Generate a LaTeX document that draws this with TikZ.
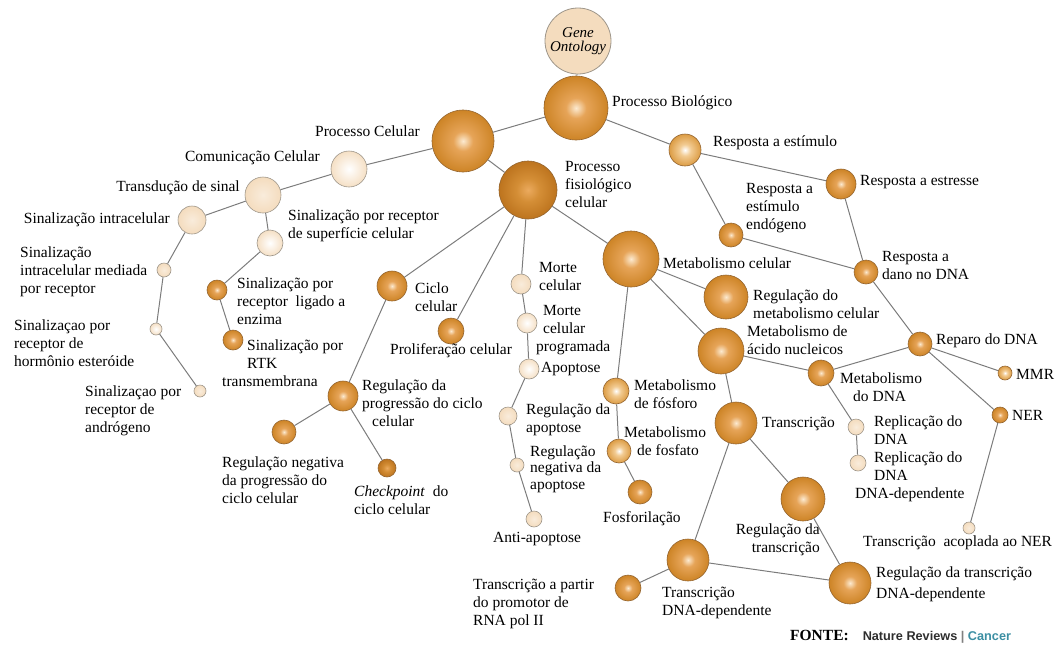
\documentclass[tikz,border=0pt]{standalone}
\usepackage{fontspec}
\setmainfont{Liberation Serif}
\newfontfamily\srcfont{Liberation Sans}
\definecolor{orbCore}{HTML}{FCEAD0}
\definecolor{orbMid}{HTML}{E6A458}
\definecolor{orbOuter}{HTML}{CD8426}
\definecolor{deepCore}{HTML}{EBAA5E}
\definecolor{deepMid}{HTML}{D48E36}
\definecolor{deepOuter}{HTML}{BD741E}
\definecolor{paleMid}{HTML}{F2CB92}
\definecolor{paleOuter}{HTML}{DC9C44}
\definecolor{orbRim}{HTML}{946531}
\definecolor{beigeFill}{HTML}{F4DCBE}
\definecolor{beigeRim}{HTML}{9E968A}
\definecolor{linkGray}{HTML}{7C7C7C}
\definecolor{srcTeal}{HTML}{3C8FA3}
\definecolor{srcDark}{HTML}{2E2E2E}
\pgfdeclareradialshading{orbshade}{\pgfpoint{0bp}{0bp}}{color(0bp)=(orbCore); color(8bp)=(orbMid); color(25bp)=(orbOuter); color(50bp)=(orbOuter)}
\pgfdeclareradialshading{deepshade}{\pgfpoint{0bp}{0bp}}{color(0bp)=(deepCore); color(10bp)=(deepMid); color(25bp)=(deepOuter); color(50bp)=(deepOuter)}
\pgfdeclareradialshading{paleshade}{\pgfpoint{0bp}{0bp}}{color(0bp)=(white); color(9bp)=(paleMid); color(25bp)=(paleOuter); color(50bp)=(paleOuter)}

\begin{document}
\begin{tikzpicture}[x=1pt, y=-1pt,
    every node/.style={font=\fontsize{15.5}{18}\selectfont},
    orb/.style={circle, inner sep=0pt, minimum size=#1, shading=orbshade,
      draw=orbRim, line width=0.6pt},
    deeporb/.style={orb=#1, shading=deepshade},
    paleorb/.style={orb=#1, shading=paleshade},
    beigeorb/.style={circle, inner sep=0pt, minimum size=#1, shading=radial,
      inner color=beigeFill!55!white, outer color=beigeFill, draw=beigeRim, line width=0.6pt},
    whiteorb/.style={beigeorb=#1, inner color=white, outer color=beigeFill!90!white},
    link/.style={draw=linkGray, line width=1pt},
    lbl/.style={inner sep=0pt, align=left, anchor=west},
    lblr/.style={inner sep=0pt, align=right, anchor=east}]
  \useasboundingbox (0,0) rectangle (1063,646);

  % raiz e primeiros niveis
  \node[circle, inner sep=0pt, minimum size=66pt, fill=beigeFill, draw=beigeRim, line width=0.8pt,
        font=\fontsize{15}{14}\selectfont\itshape, align=center] (go) at (578,41) {Gene\\Ontology};
  \node[orb=64pt] (pb) at (576,108) {};
  \node[orb=62pt] (pc) at (463,141) {};
  \node[deeporb=58pt] (pfc) at (528,190) {};
  \node[paleorb=32pt] (respest) at (685,150) {};

  % comunicacao celular
  \node[whiteorb=36pt] (cc) at (349,169) {};
  \node[beigeorb=36pt] (ts) at (263,195) {};
  \node[beigeorb=28pt] (si) at (192,220) {};
  \node[whiteorb=26pt] (ss) at (270,243) {};
  \node[beigeorb=14pt] (simr) at (164,270) {};
  \node[whiteorb=12pt] (horm) at (156,329) {};
  \node[beigeorb=12pt] (andr) at (200,391) {};
  \node[orb=20pt] (enz) at (217,290) {};
  \node[orb=20pt] (rtk) at (233,340) {};

  % processo fisiologico
  \node[orb=30pt] (ciclo) at (392,286) {};
  \node[orb=26pt] (prolif) at (451,331) {};
  \node[beigeorb=20pt] (morte) at (521,284) {};
  \node[whiteorb=20pt] (morteprog) at (527,323) {};
  \node[whiteorb=20pt] (apop) at (529,369) {};
  \node[orb=30pt] (regprog) at (343,396) {};
  \node[orb=24pt] (regnegprog) at (284,432) {};
  \node[deeporb=18pt] (chkpt) at (387,468) {};
  \node[beigeorb=18pt] (regapop) at (508,416) {};
  \node[beigeorb=14pt] (regnegapop) at (517,465) {};
  \node[beigeorb=16pt] (antiapop) at (534,519) {};

  % metabolismo
  \node[orb=56pt] (metcel) at (631,259) {};
  \node[orb=44pt] (regmetcel) at (726,297) {};
  \node[paleorb=26pt] (metfosforo) at (616,391) {};
  \node[paleorb=24pt] (metfosfato) at (619,451) {};
  \node[orb=24pt] (fosforil) at (640,492) {};
  \node[orb=46pt] (metacido) at (721,351) {};
  \node[orb=42pt] (transc) at (736,423) {};
  \node[orb=26pt] (metdna) at (821,373) {};
  \node[beigeorb=16pt] (repl) at (856,427) {};
  \node[beigeorb=16pt] (repldep) at (858,463) {};
  \node[orb=44pt] (regtransc) at (803,499) {};
  \node[orb=42pt] (transcdep) at (688,560) {};
  \node[orb=42pt] (regtranscdep) at (850,583) {};
  \node[orb=26pt] (rnapol) at (628,588) {};

  % resposta a estimulo
  \node[orb=30pt] (respstress) at (841,184) {};
  \node[orb=24pt] (respendo) at (731,235) {};
  \node[orb=24pt] (respdano) at (866,272) {};
  \node[orb=24pt] (reparo) at (920,344) {};
  \node[paleorb=14pt] (mmr) at (1005,373) {};
  \node[orb=16pt] (ner) at (1000,415) {};
  \node[beigeorb=12pt] (tcner) at (969,528) {};

  % ligacoes
  \draw[link] (go) -- (pb);
  \draw[link] (pb) -- (pc);
  \draw[link] (pb) -- (respest);
  \draw[link] (pc) -- (cc);
  \draw[link] (pc) -- (pfc);
  \draw[link] (cc) -- (ts);
  \draw[link] (ts) -- (si);
  \draw[link] (ts) -- (ss);
  \draw[link] (si) -- (simr);
  \draw[link] (simr) -- (horm);
  \draw[link] (horm) -- (andr);
  \draw[link] (ss) -- (enz);
  \draw[link] (enz) -- (rtk);
  \draw[link] (pfc) -- (ciclo);
  \draw[link] (pfc) -- (prolif);
  \draw[link] (pfc) -- (morte);
  \draw[link] (pfc) -- (metcel);
  \draw[link] (ciclo) -- (regprog);
  \draw[link] (regprog) -- (regnegprog);
  \draw[link] (regprog) -- (chkpt);
  \draw[link] (morte) -- (morteprog);
  \draw[link] (morteprog) -- (apop);
  \draw[link] (apop) -- (regapop);
  \draw[link] (regapop) -- (regnegapop);
  \draw[link] (regnegapop) -- (antiapop);
  \draw[link] (metcel) -- (regmetcel);
  \draw[link] (metcel) -- (metfosforo);
  \draw[link] (metcel) -- (metacido);
  \draw[link] (metfosforo) -- (metfosfato);
  \draw[link] (metfosfato) -- (fosforil);
  \draw[link] (metacido) -- (transc);
  \draw[link] (metacido) -- (metdna);
  \draw[link] (metdna) -- (reparo);
  \draw[link] (metdna) -- (repl);
  \draw[link] (repl) -- (repldep);
  \draw[link] (transc) -- (regtransc);
  \draw[link] (transc) -- (transcdep);
  \draw[link] (regtransc) -- (regtranscdep);
  \draw[link] (transcdep) -- (regtranscdep);
  \draw[link] (transcdep) -- (rnapol);
  \draw[link] (respest) -- (respstress);
  \draw[link] (respest) -- (respendo);
  \draw[link] (respendo) -- (respdano);
  \draw[link] (respstress) -- (respdano);
  \draw[link] (respdano) -- (reparo);
  \draw[link] (reparo) -- (mmr);
  \draw[link] (reparo) -- (ner);
  \draw[link] (ner) -- (tcner);

  % rotulos
  \node[lbl] (pb-t) at (612,103) {Processo Biológico};
  \node[lblr] (pc-t) at (420,131) {Processo Celular};
  \node[lblr] (cc-t) at (320,158) {Comunicação Celular};
  \node[lblr] (ts-t) at (240,188) {Transdução de sinal};
  \node[lblr] (si-t) at (170,220) {Sinalização intracelular};
  \node[lbl] (ss-t) at (288,226) {Sinalização por receptor\\de superfície celular};
  \node[lbl] (simr-t) at (20,272) {Sinalização\\intracelular mediada\\por receptor};
  \node[lbl] (horm-t) at (14,343) {Sinalizaçao por\\receptor de\\hormônio esteróide};
  \node[lbl] (andr-t) at (85,411) {Sinalizaçao por\\receptor de\\andrógeno};
  \node[lbl] (enz-t) at (237,301) {Sinalização por\\receptor\ \ ligado a\\enzima};
  \node[lbl] (rtk-t) at (222,363) {\hspace*{25pt}Sinalização por\\\hspace*{25pt}RTK\\transmembrana};
  \node[lbl] (pfc-t) at (565,184) {Processo\\fisiológico\\celular};
  \node[lbl] (ciclo-t) at (415,297) {Ciclo\\celular};
  \node[lbl] (prolif-t) at (390,351) {Proliferação celular};
  \node[lbl] (morte-t) at (539,276) {Morte\\celular};
  \node[lbl] (morteprog-t) at (536,330) {\hspace*{7pt}Morte\\\hspace*{7pt}celular\\programada};
  \node[lbl] (apop-t) at (541,369) {Apoptose};
  \node[lbl] (metcel-t) at (663,263) {Metabolismo celular};
  \node[lbl] (regprog-t) at (362,403) {Regulação da\\progressão do ciclo\\\hspace*{10pt}celular};
  \node[lbl] (regnegprog-t) at (222,480) {Regulação negativa\\da progressão do\\ciclo celular};
  \node[lbl] (chkpt-t) at (354,500) {\textit{Checkpoint}\ \ do\\ciclo celular};
  \node[lbl] (regapop-t) at (526,420) {Regulação da\\apoptose};
  \node[lbl, font=\fontsize{15.5}{16.5}\selectfont] (regnegapop-t) at (530,469) {Regulação\\negativa da\\apoptose};
  \node[lbl] (antiapop-t) at (493,539) {Anti-apoptose};
  \node[lbl] (metfosforo-t) at (634,394) {Metabolismo\\de fósforo};
  \node[lbl] (metfosfato-t) at (624,441) {Metabolismo\\\hspace*{13pt}de fosfato};
  \node[lbl] (fosforil-t) at (603,519) {Fosforilação};
  \node[lbl] (regmetcel-t) at (753,304) {Regulação do\\metabolismo celular};
  \node[lbl] (metacido-t) at (747,340) {Metabolismo de\\ácido nucleicos};
  \node[lbl] (transc-t) at (762,424) {Transcrição};
  \node[lbl] (metdna-t) at (840,387) {Metabolismo\\\hspace*{13pt}do DNA};
  \node[lbl] (reparo-t) at (936,341) {Reparo do DNA};
  \node[lbl] (mmr-t) at (1016,374) {MMR};
  \node[lbl] (ner-t) at (1012,415) {NER};
  \node[lbl] (repl-t) at (874,430) {Replicação do\\DNA};
  \node[lbl] (repldep-t) at (855,477) {\hspace*{19pt}Replicação do\\\hspace*{19pt}DNA\\DNA-dependente};
  \node[lbl] (tcner-t) at (863,543) {Transcrição\ \ acoplada ao NER};
  \node[lblr] (regtransc-t) at (820,540) {Regulação da\\transcrição};
  \node[lbl] (transcdep-t) at (662,603) {Transcrição\\DNA-dependente};
  \node[lbl, font=\fontsize{15.5}{21}\selectfont] (regtranscdep-t) at (876,584) {Regulação da transcrição\\DNA-dependente};
  \node[lbl] (rnapol-t) at (473,604) {Transcrição a partir\\do promotor de\\RNA pol II};
  \node[lbl] (respest-t) at (713,143) {Resposta a estímulo};
  \node[lbl] (respstress-t) at (860,182) {Resposta a estresse};
  \node[lbl] (respendo-t) at (746,208) {Resposta a\\estímulo\\endógeno};
  \node[lbl] (respdano-t) at (882,265) {Resposta a\\dano no DNA};

  % fonte
  \node[lbl] (fonte) at (790,637) {\textbf{FONTE:}\hspace{14pt}{\srcfont\bfseries\fontsize{12.7}{14}\selectfont
    \color{srcDark}Nature Reviews {\color{gray}|} \color{srcTeal}Cancer}};
\end{tikzpicture}
\end{document}
